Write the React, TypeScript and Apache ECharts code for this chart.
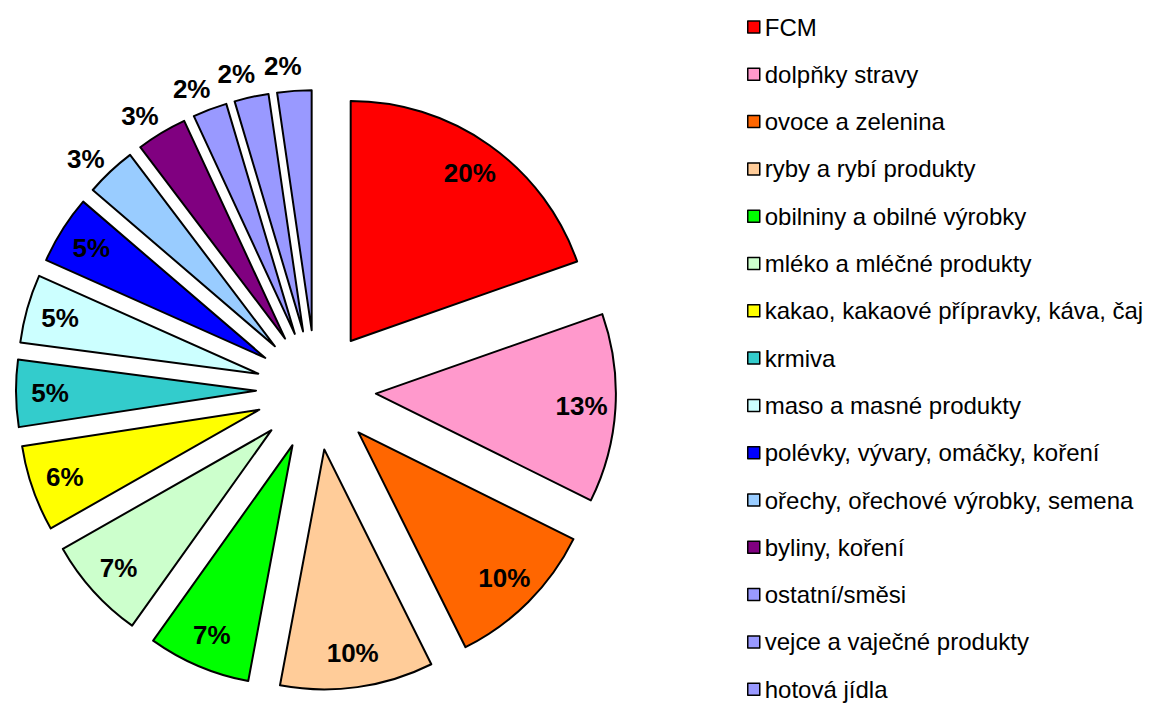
import React, { useEffect, useRef } from 'react';
import * as echarts from 'echarts';

const categories = [
  'FCM',
  'dolpňky stravy',
  'ovoce a zelenina',
  'ryby a rybí produkty',
  'obilniny a obilné výrobky',
  'mléko a mléčné produkty',
  'kakao, kakaové přípravky, káva, čaj',
  'krmiva',
  'maso a masné produkty',
  'polévky, vývary, omáčky, koření',
  'ořechy, ořechové výrobky, semena',
  'byliny, koření',
  'ostatní/směsi',
  'vejce a vaječné produkty',
  'hotová jídla',
];

const shares = [19.6, 12.7, 10.3, 10.3, 6.9, 6.9, 5.8, 4.5, 4.6, 4.6, 3.4, 3.4, 2.3, 2.3, 2.3];

const palette = [
  '#FF0000', '#FF99CC', '#FF6600', '#FFCC99', '#00FF00', '#CCFFCC', '#FFFF00',
  '#33CCCC', '#CCFFFF', '#0000FF', '#99CCFF', '#800080', '#9999FF', '#9999FF', '#9999FF',
];

const FONT = 'Arial, "Liberation Sans", Helvetica, sans-serif';

export default function App() {
  const ref = useRef<HTMLDivElement>(null);

  useEffect(() => {
    if (!ref.current) return;
    const chart = echarts.init(ref.current, undefined, { renderer: 'svg' });

    const common: any = {
      type: 'pie',
      center: [316, 390],
      startAngle: 90,
      clockwise: true,
      selectedMode: 'multiple',
      selectedOffset: 60,
      emphasis: { disabled: true },
      silent: true,
      avoidLabelOverlap: false,
      minShowLabelAngle: 0,
      labelLayout: { hideOverlap: false },
      labelLine: { show: false },
    };

    const labelStyle = {
      color: '#000',
      fontSize: 26,
      fontWeight: 'bold',
      fontFamily: FONT,
      overflow: 'none',
      formatter: (p: any) => Math.round(p.percent) + '%',
    };

    const mainData = categories.map((name, i) => ({
      name,
      value: shares[i],
      selected: true,
      itemStyle: { color: palette[i], borderColor: '#000', borderWidth: 2 },
    }));

    const labelData = (inside: boolean) =>
      categories.map((name, i) => ({
        name,
        value: shares[i],
        selected: true,
        itemStyle: { color: 'rgba(0,0,0,0)', borderWidth: 0 },
        label: { show: inside ? shares[i] >= 4 : shares[i] < 4 },
      }));

    chart.setOption({
      animation: false,
      backgroundColor: '#fff',
      legend: {
        orient: 'vertical',
        left: 747,
        top: 15,
        height: 700,
        padding: 0,
        itemWidth: 12,
        itemHeight: 12,
        itemGap: 23.3,
        icon: 'rect',
        selectedMode: false,
        data: categories,
        itemStyle: { borderColor: '#000', borderWidth: 1.5 },
        textStyle: { color: '#000', fontSize: 24, fontFamily: FONT },
      },
      series: [
        {
          ...common,
          name: 'main',
          radius: 240,
          label: { show: false },
          data: mainData,
        },
        {
          ...common,
          name: 'inner-labels',
          radius: [166, 240],
          label: { ...labelStyle, position: 'inside' },
          data: labelData(true),
        },
        {
          ...common,
          name: 'outer-labels',
          startAngle: 91.7,
          radius: [196, 330],
          label: { ...labelStyle, position: 'inside' },
          data: labelData(false),
        },
      ],
    });

    return () => chart.dispose();
  }, []);

  return (
    <div
      ref={ref}
      style={{ position: 'absolute', left: 0, top: 0, width: 1149, height: 704 }}
    />
  );
}
